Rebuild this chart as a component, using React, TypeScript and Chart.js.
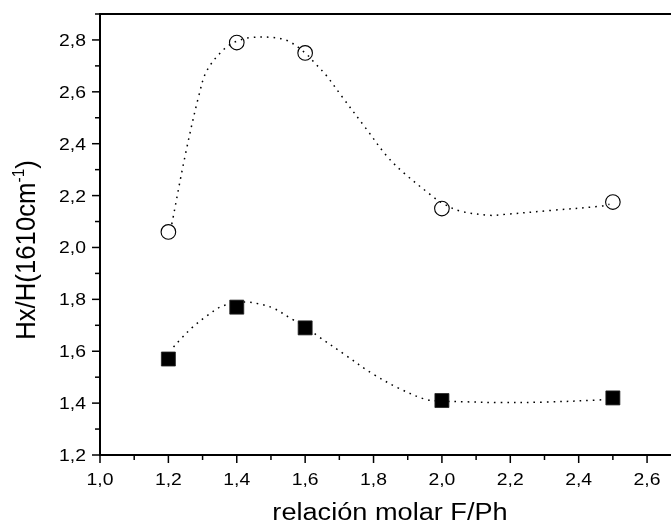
import React, { useEffect, useRef } from "react";
import { Chart, registerables } from "chart.js";

Chart.register(...registerables);

// ---- data ----
const xValues = [1.2, 1.4, 1.6, 2.0, 2.5];
const circleValues = [2.06, 2.79, 2.75, 2.15, 2.175];
const squareValues = [1.57, 1.77, 1.69, 1.41, 1.42];

// dotted spline traces
const upperCurveX = [1.21, 1.25, 1.29, 1.313, 1.364, 1.4, 1.44, 1.5, 1.55, 1.6, 1.629, 1.663, 1.707, 1.78, 1.839, 1.888, 1.966, 2.0, 2.054, 2.141, 2.179, 2.32, 2.463, 2.49];
const upperCurveY = [2.09, 2.36, 2.59, 2.683, 2.766, 2.795, 2.809, 2.81, 2.796, 2.75, 2.71, 2.661, 2.583, 2.455, 2.352, 2.288, 2.204, 2.172, 2.14, 2.124, 2.127, 2.143, 2.159, 2.167];
const lowerCurveX = [1.215, 1.234, 1.271, 1.31, 1.349, 1.37, 1.424, 1.463, 1.507, 1.561, 1.6, 1.639, 1.717, 1.795, 1.873, 1.951, 2.0, 2.073, 2.166, 2.3, 2.458, 2.49];
const lowerCurveY = [1.616, 1.644, 1.693, 1.734, 1.769, 1.779, 1.79, 1.783, 1.766, 1.724, 1.695, 1.657, 1.586, 1.515, 1.458, 1.415, 1.408, 1.405, 1.402, 1.404, 1.412, 1.416];

const xMajorTicks = [1.0, 1.2, 1.4, 1.6, 1.8, 2.0, 2.2, 2.4, 2.6];
const xMinorTicks = [1.1, 1.3, 1.5, 1.7, 1.9, 2.1, 2.3, 2.5];
const yMajorTicks = [1.2, 1.4, 1.6, 1.8, 2.0, 2.2, 2.4, 2.6, 2.8];
const yMinorTicks = [1.3, 1.5, 1.7, 1.9, 2.1, 2.3, 2.5, 2.7, 2.9];

const xTitle = "relación molar F/Ph";
const yTitleMain = "Hx/H(1610cm";
const yTitleSup = "-1";
const yTitleEnd = ")";

const FONT = '"Liberation Sans", Arial, Helvetica, sans-serif';
const fmt = (v: number) => v.toFixed(1).replace(".", ",");

const framePlugin = {
  id: "frame",
  afterDraw(chart: any) {
    const ctx = chart.ctx as CanvasRenderingContext2D;
    const { left, right, top, bottom } = chart.chartArea;
    const xs = chart.scales.x;
    const ys = chart.scales.y;
    ctx.save();
    ctx.strokeStyle = "#000";
    ctx.fillStyle = "#000";
    // top frame line
    ctx.lineWidth = 2;
    ctx.beginPath();
    ctx.moveTo(left - 1, top);
    ctx.lineTo(right, top);
    ctx.stroke();

    // ticks
    ctx.lineWidth = 1.5;
    const xTick = (v: number, len: number) => {
      const p = xs.getPixelForValue(v);
      ctx.beginPath();
      ctx.moveTo(p, bottom);
      ctx.lineTo(p, bottom + len);
      ctx.stroke();
    };
    const yTick = (v: number, len: number) => {
      const p = ys.getPixelForValue(v);
      ctx.beginPath();
      ctx.moveTo(left, p);
      ctx.lineTo(left - len, p);
      ctx.stroke();
    };
    xMajorTicks.forEach((v) => xTick(v, 8));
    xMinorTicks.forEach((v) => xTick(v, 5));
    yMajorTicks.forEach((v) => yTick(v, 8));
    yMinorTicks.forEach((v) => yTick(v, 5));

    const drawText = (text: string, x: number, y: number, align: CanvasTextAlign, sx: number) => {
      ctx.save();
      ctx.translate(x, y);
      ctx.scale(sx, 1);
      ctx.textAlign = align;
      ctx.textBaseline = "alphabetic";
      ctx.fillText(text, 0, 0);
      ctx.restore();
    };

    // tick labels
    ctx.font = `17px ${FONT}`;
    xMajorTicks.forEach((v) => drawText(fmt(v), xs.getPixelForValue(v), bottom + 30, "center", 1.14));
    yMajorTicks.forEach((v) => drawText(fmt(v), left - 14, ys.getPixelForValue(v) + 6, "right", 1.14));

    // x title
    ctx.font = `23px ${FONT}`;
    drawText(xTitle, 390, 520, "center", 1.18);

    // y title with superscript, rotated
    const mainFont = `25px ${FONT}`;
    const supFont = `15px ${FONT}`;
    ctx.font = mainFont;
    const wMain = ctx.measureText(yTitleMain).width;
    const wEnd = ctx.measureText(yTitleEnd).width;
    ctx.font = supFont;
    const wSup = ctx.measureText(yTitleSup).width;
    const total = wMain + wSup + wEnd;
    ctx.save();
    ctx.translate(35, 250);
    ctx.rotate(-Math.PI / 2);
    ctx.scale(1.03, 1.1);
    ctx.textAlign = "left";
    ctx.textBaseline = "alphabetic";
    let cx = -total / 2;
    ctx.font = mainFont;
    ctx.fillText(yTitleMain, cx, 0);
    cx += wMain;
    ctx.font = supFont;
    ctx.fillText(yTitleSup, cx, -10);
    cx += wSup;
    ctx.font = mainFont;
    ctx.fillText(yTitleEnd, cx, 0);
    ctx.restore();

    ctx.restore();
  },
};

export default function App() {
  const canvasRef = useRef<HTMLCanvasElement | null>(null);

  useEffect(() => {
    const canvas = canvasRef.current;
    if (!canvas) return;
    const toPts = (xa: number[], ya: number[]) => xa.map((x, i) => ({ x, y: ya[i] }));
    const chart = new Chart(canvas, {
      type: "line",
      data: {
        datasets: [
          {
            label: "open",
            data: toPts(xValues, circleValues),
            showLine: false,
            pointStyle: "circle",
            pointRadius: 7.3,
            pointBorderWidth: 1.1,
            pointBorderColor: "#000",
            pointBackgroundColor: "rgba(0,0,0,0)",
          },
          {
            label: "filled",
            data: toPts(xValues, squareValues),
            showLine: false,
            pointStyle: "rect",
            pointRadius: 9.9,
            pointBorderWidth: 0.8,
            pointBorderColor: "#222",
            pointBackgroundColor: "#000",
          },
          {
            label: "upperCurve",
            data: toPts(upperCurveX, upperCurveY),
            borderColor: "#000",
            borderWidth: 1.5,
            borderDash: [1.6, 5],
            tension: 0.35,
            pointRadius: 0,
            fill: false,
          },
          {
            label: "lowerCurve",
            data: toPts(lowerCurveX, lowerCurveY),
            borderColor: "#000",
            borderWidth: 1.5,
            borderDash: [1.6, 5],
            tension: 0.35,
            pointRadius: 0,
            fill: false,
          },
        ],
      },
      options: {
        responsive: false,
        animation: false,
        layout: { autoPadding: false, padding: { top: 14, right: 0, left: 0, bottom: 0 } },
        plugins: { legend: { display: false }, tooltip: { enabled: false } },
        scales: {
          x: {
            type: "linear",
            min: 1.0,
            max: 2.67,
            ticks: { display: false },
            grid: { display: false },
            border: { display: true, color: "#000", width: 2 },
            afterFit: (s: any) => {
              s.height = 67;
            },
          },
          y: {
            type: "linear",
            min: 1.2,
            max: 2.9,
            ticks: { display: false },
            grid: { display: false },
            border: { display: true, color: "#000", width: 2 },
            afterFit: (s: any) => {
              s.width = 100;
            },
          },
        },
      },
      plugins: [framePlugin],
    } as any);
    return () => chart.destroy();
  }, []);

  return (
    <div style={{ position: "absolute", left: 0, top: 0, width: 671, height: 522, background: "#fff" }}>
      <canvas ref={canvasRef} width={671} height={522} style={{ display: "block" }} />
    </div>
  );
}
